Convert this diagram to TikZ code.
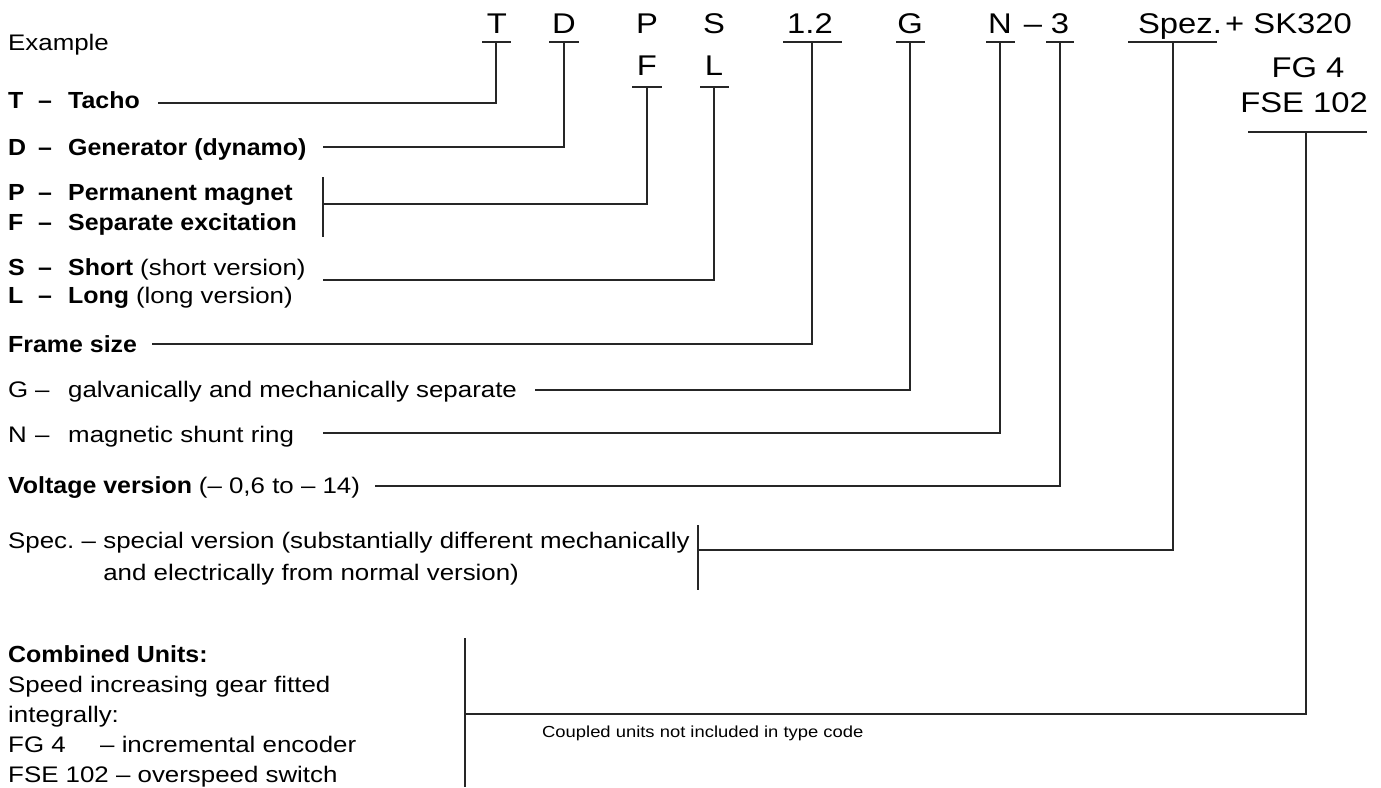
\documentclass[tikz,border=0pt]{standalone}
\usepackage{fontspec}
\setmainfont{Liberation Sans}[FakeStretch=1.15]
\newfontfamily\bfam{Liberation Sans}[FakeStretch=1.07]
\newcommand\txtR{\normalfont\fontsize{22.5}{27}\selectfont}
\newcommand\txtB{\bfam\bfseries\fontsize{23.3}{28}\selectfont}
\newcommand\txtT{\normalfont\fontsize{28.5}{32}\selectfont}
\newcommand\txtS{\normalfont\fontsize{16}{19}\selectfont}
\begin{document}
\begin{tikzpicture}[x=1pt,y=-1pt,
  lbl/.style={anchor=base west, inner sep=0pt, font=\txtR},
  blbl/.style={anchor=base west, inner sep=0pt, font=\txtB},
  code/.style={anchor=base, inner sep=0pt, font=\txtT},
  ln/.style={line width=1.2pt, draw=black!85}]
\useasboundingbox (0,0) rectangle (1381,787);

% ---- type code row ----
\node[code] (cT) at (497,33) {T};
\node[code] (cD) at (564,33) {D};
\node[code] (cP) at (647,33) {P};
\node[code] (cS) at (714,33) {S};
\node[code] (cF) at (647,75) {F};
\node[code] (cL) at (714,75) {L};
\node[code] (c12) at (810,33) {1.2};
\node[code] (cG) at (910,33) {G};
\node[code] (cN) at (1000,33) {N};
\node[code] (cdash) at (1033,33) {–};
\node[code] (c3) at (1060,33) {3};
\node[code] (cSpez) at (1180,33) {Spez.};
\node[code, anchor=base west] (cSK) at (1225,33) {+ SK320};
\node[code] (cFG) at (1308,77) {FG 4};
\node[code] (cFSE) at (1304,112) {FSE 102};

% underline anchors
\coordinate (uT) at (496,42);
\coordinate (uD) at (564,42);
\coordinate (uF) at (647,87);
\coordinate (uL) at (714,87);
\coordinate (u12) at (812,42);
\coordinate (uG) at (910,42);
\coordinate (uN) at (1000,42);
\coordinate (u3) at (1060,42);
\coordinate (uSpez) at (1173,42);
\coordinate (uFSE) at (1306,132);

\draw[ln] ([xshift=-14pt]uT) -- ([xshift=15pt]uT);
\draw[ln] ([xshift=-15pt]uD) -- ([xshift=15pt]uD);
\draw[ln] ([xshift=-15pt]uF) -- ([xshift=15pt]uF);
\draw[ln] ([xshift=-14pt]uL) -- ([xshift=15pt]uL);
\draw[ln] ([xshift=-29pt]u12) -- ([xshift=30pt]u12);
\draw[ln] ([xshift=-14pt]uG) -- ([xshift=15pt]uG);
\draw[ln] ([xshift=-14pt]uN) -- ([xshift=15pt]uN);
\draw[ln] ([xshift=-14pt]u3) -- ([xshift=14pt]u3);
\draw[ln] ([xshift=-45pt]uSpez) -- ([xshift=44pt]uSpez);
\draw[ln] ([xshift=-58pt]uFSE) -- ([xshift=61pt]uFSE);

% ---- left labels ----
\node[lbl] (ex) at (8,50) {Example};

\node[blbl] (kT) at (8,108) {T};
\node[blbl] (dT) at (38,108) {–};
\node[blbl] (lT) at (68,108) {Tacho};

\node[blbl] (kD) at (8,155) {D};
\node[blbl] (dD) at (38,155) {–};
\node[blbl] (lD) at (68,155) {Generator (dynamo)};

\node[blbl] (kP) at (8,200) {P};
\node[blbl] (dP) at (38,200) {–};
\node[blbl] (lP) at (68,200) {Permanent magnet};

\node[blbl] (kF) at (8,230) {F};
\node[blbl] (dF) at (38,230) {–};
\node[blbl] (lF) at (68,230) {Separate excitation};

\node[blbl] (kS) at (8,275) {S};
\node[blbl] (dS) at (38,275) {–};
\node[blbl] (lS) at (68,275) {Short {\txtR(short version)}};

\node[blbl] (kL) at (8,303) {L};
\node[blbl] (dL) at (38,303) {–};
\node[blbl] (lL) at (68,303) {Long {\txtR(long version)}};

\node[blbl] (lFrame) at (8,352) {Frame size};

\node[lbl] (kG) at (8,397) {G};
\node[lbl] (dG) at (35,397) {–};
\node[lbl] (lG) at (68,397) {galvanically and mechanically separate};

\node[lbl] (kN) at (8,442) {N};
\node[lbl] (dN) at (35,442) {–};
\node[lbl] (lN) at (68,442) {magnetic shunt ring};

\node[blbl] (lV) at (8,493) {Voltage version {\txtR(– 0,6 to – 14)}};

\node[lbl] (sp1) at (8,548) {Spec.\ –};
\node[lbl] (sp2) at ([xshift=7pt]sp1.base east) {special version (substantially different mechanically};
\node[lbl] (sp3) at ([yshift=-32pt]sp2.base west) {and electrically from normal version)};

\node[blbl] (cu1) at (8,662) {Combined Units:};
\node[lbl] (cu2) at (8,692) {Speed increasing gear fitted};
\node[lbl] (cu3) at (8,722) {integrally:};
\node[lbl] (cu4a) at (8,752) {FG 4};
\node[lbl] (cu4b) at (100,752) {– incremental encoder};
\node[lbl] (cu5) at (8,782) {FSE 102 – overspeed switch};

\node[anchor=base west, inner sep=0pt, font=\txtS] (note) at (542,737) {Coupled units not included in type code};

% ---- connector ends ----
\coordinate (aT) at (158,103);
\coordinate (aD) at (323,147);
\coordinate (aPF) at (323,204);
\coordinate (bPFt) at (323,177);
\coordinate (bPFb) at (323,237);
\coordinate (aSL) at (323,280);
\coordinate (a12) at (152,344);
\coordinate (aG) at (535,390);
\coordinate (aN) at (323,433);
\coordinate (a3) at (375,486);
\coordinate (aSp) at (698,550);
\coordinate (bSpt) at (698,525);
\coordinate (bSpb) at (698,590);
\coordinate (aCU) at (465,714);
\coordinate (bCUt) at (465,638);
\coordinate (bCUb) at (465,787);

% ---- connectors ----
\draw[ln] (uT) |- (aT);
\draw[ln] (uD) |- (aD);
\draw[ln] (uF) |- (aPF);
\draw[ln] (bPFt) -- (bPFb);
\draw[ln] (uL) |- (aSL);
\draw[ln] (u12) |- (a12);
\draw[ln] (uG) |- (aG);
\draw[ln] (uN) |- (aN);
\draw[ln] (u3) |- (a3);
\draw[ln] (uSpez) |- (aSp);
\draw[ln] (bSpt) -- (bSpb);
\draw[ln] (uFSE) |- (aCU);
\draw[ln] (bCUt) -- (bCUb);
\end{tikzpicture}
\end{document}
